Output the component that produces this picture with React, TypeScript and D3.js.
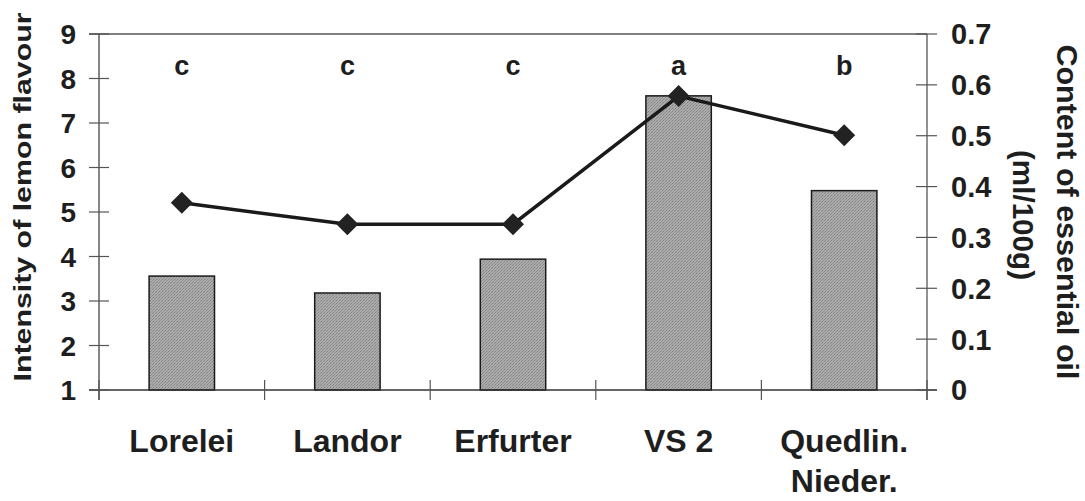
import React from "react";
import * as d3 from "d3";

const categories = ["Lorelei", "Landor", "Erfurter", "VS 2", "Quedlin.|Nieder."];
const flavourValues = [3.56, 3.18, 3.94, 7.61, 5.48];
const oilValues = [0.368, 0.326, 0.326, 0.578, 0.501];
const letters = ["c", "c", "c", "a", "b"];
const leftTicks = [1, 2, 3, 4, 5, 6, 7, 8, 9];
const rightTicks = [0, 0.1, 0.2, 0.3, 0.4, 0.5, 0.6, 0.7];

const W = 1085;
const H = 501;
const left = 99;
const right = 927;
const top = 34;
const bottom = 390;
const FONT = "'Liberation Sans', Arial, sans-serif";
const INK = "#1e1e1e";

export default function App() {
  const x = d3.scaleBand<string>().domain(categories).range([left, right]).paddingInner(0).paddingOuter(0);
  const yL = d3.scaleLinear().domain([1, 9]).range([bottom, top]);
  const yR = d3.scaleLinear().domain([0, 0.7]).range([bottom, top]);
  const bw = x.bandwidth();
  const barW = bw * 0.395;
  const cx = (c: string) => (x(c) as number) + bw / 2;
  const lineGen = d3
    .line<number>()
    .x((_, i) => cx(categories[i]))
    .y((d) => yR(d));
  const bounds = [left, ...categories.map((c) => (x(c) as number) + bw)];
  const diamond = (px: number, py: number, r: number) =>
    `M${px},${py - r}L${px + r},${py}L${px},${py + r}L${px - r},${py}Z`;

  return (
    <svg
      width={W}
      height={H}
      style={{ position: "absolute", left: 0, top: 0, background: "#fff" }}
      fontFamily={FONT}
    >
      <defs>
        <pattern id="grain" width="3" height="3" patternUnits="userSpaceOnUse">
          <rect width="3" height="3" fill="#ababab" />
          <rect x="0" y="0" width="1" height="1" fill="#828282" />
          <rect x="2" y="1" width="1" height="1" fill="#8e8e8e" />
          <rect x="1" y="2" width="1" height="1" fill="#939393" />
        </pattern>
      </defs>
      <rect width={W} height={H} fill="#fff" />
      {/* bars */}
      {categories.map((c, i) => (
        <rect
          key={c}
          x={cx(c) - barW / 2}
          y={yL(flavourValues[i])}
          width={barW}
          height={bottom - yL(flavourValues[i])}
          fill="url(#grain)"
          stroke="#1a1a1a"
          strokeWidth={1.5}
        />
      ))}
      {/* frame */}
      <line x1={89} x2={right} y1={top} y2={top} stroke="#555" strokeWidth={1.5} />
      <line x1={left} x2={left} y1={top} y2={bottom + 10} stroke="#444" strokeWidth={1.3} />
      <line x1={right} x2={right} y1={top} y2={bottom + 10} stroke="#555" strokeWidth={1.3} />
      <line x1={89} x2={937} y1={bottom} y2={bottom} stroke="#333" strokeWidth={1.5} />
      {/* left ticks */}
      {leftTicks.map((t) => (
        <g key={"l" + t}>
          <line x1={89} x2={109} y1={yL(t)} y2={yL(t)} stroke="#555" strokeWidth={1.2} />
          <text
            x={76}
            y={yL(t)}
            dy="0.36em"
            textAnchor="end"
            fontSize={28}
            fontWeight="bold"
            fill={INK}
          >
            {t}
          </text>
        </g>
      ))}
      {/* right ticks */}
      {rightTicks.map((t) => (
        <g key={"r" + t}>
          <line x1={916} x2={937} y1={yR(t)} y2={yR(t)} stroke="#555" strokeWidth={1.2} />
          <text x={951} y={yR(t)} dy="0.36em" fontSize={29} fontWeight="bold" fill={INK}>
            {d3.format("")(+t.toFixed(1))}
          </text>
        </g>
      ))}
      {/* x ticks */}
      {bounds.map((b, i) => (
        <line key={"x" + i} x1={b} x2={b} y1={bottom - 10} y2={bottom + 10} stroke="#555" strokeWidth={1.2} />
      ))}
      {/* category labels */}
      {categories.map((c) => {
        const parts = c.split("|");
        return (
          <text key={"t" + c} x={cx(c)} y={452} textAnchor="middle" fontSize={32} fontWeight="bold" fill={INK}>
            {parts.map((p, j) => (
              <tspan key={j} x={cx(c)} dy={j === 0 ? 0 : 40}>
                {p}
              </tspan>
            ))}
          </text>
        );
      })}
      {/* letters */}
      {categories.map((c, i) => (
        <text key={"s" + c} x={cx(c)} y={75} textAnchor="middle" fontSize={27} fontWeight="bold" fill={INK}>
          {letters[i]}
        </text>
      ))}
      {/* line */}
      <path d={lineGen(oilValues) as string} fill="none" stroke="#1a1a1a" strokeWidth={3.5} />
      {oilValues.map((v, i) => (
        <path key={"d" + i} d={diamond(cx(categories[i]), yR(v), 11)} fill="#222" />
      ))}
      {/* axis titles */}
      <text
        transform={`translate(31,197) rotate(-90)`}
        textAnchor="middle"
        fontSize={24}
        fontWeight="bold"
        fill={INK}
        textLength={369}
        lengthAdjust="spacingAndGlyphs"
      >
        Intensity of lemon flavour
      </text>
      <text
        transform={`translate(1057,212) rotate(90)`}
        textAnchor="middle"
        fontSize={30}
        fontWeight="bold"
        fill={INK}
        textLength={335}
        lengthAdjust="spacingAndGlyphs"
      >
        Content of essential oil
      </text>
      <text
        transform={`translate(1013,215) rotate(90)`}
        textAnchor="middle"
        fontSize={29}
        fontWeight="bold"
        fill={INK}
        textLength={130}
        lengthAdjust="spacingAndGlyphs"
      >
        (ml/100g)
      </text>
    </svg>
  );
}
